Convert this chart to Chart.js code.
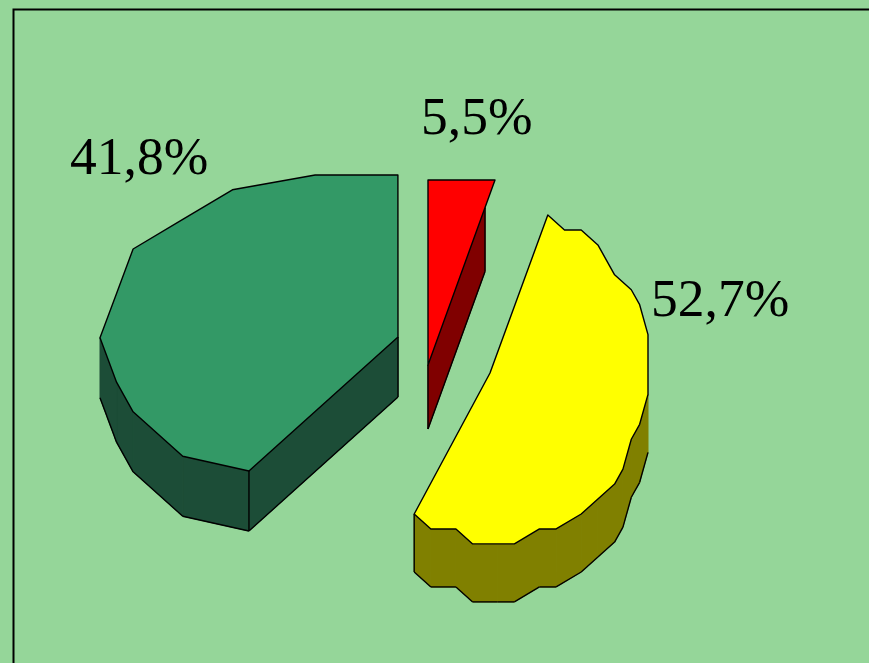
<!DOCTYPE html>
<html>
<head>
<meta charset="utf-8">
<style>html,body{margin:0;padding:0;background:#95d699;overflow:hidden}canvas{display:block}</style>
<script src="https://cdn.jsdelivr.net/npm/chart.js@4"></script>
</head>
<body>
<canvas id="c" width="869" height="663"></canvas>
<script>
const categories = ['Rojo', 'Amarillo', 'Verde'];
const shares = [5.5, 52.7, 41.8];
const shareLabels = ['5,5%', '52,7%', '41,8%'];
const topColors = ['#ff0000', '#ffff00', '#339966'];
const sideColors = ['#800000', '#808000', '#1c4d37'];

// Where each exploded, tilted slice sits, and how coarsely its rim is plotted.
const sliceLayout = [
  {x: 428, y: 365, rx: 198, ry: 190, depth: 64, step: 30, gx: 1, ox: 0, gy: 14.8, oy: 180, upper: 1, sideRight: 485, label: [421, 134]},
  {x: 490, y: 373, rx: 160, ry: 167, depth: 58, step: 8, gx: 8.35, ox: 648, gy: 14.95, oy: 215, upper: 1, label: [651, 316]},
  {x: 398, y: 337, rx: 298, ry: 162, depth: 60, step: 15, gx: 16.55, ox: 100, gy: 14.8, oy: 175, upper: 0.88, label: [70, 174]}
];

function snap(v, g, o) { return Math.round((v - o) / g) * g + o; }

function rim(arc, s) {
  const pts = [[s.x, s.y]];
  const a0 = arc.startAngle, a1 = arc.endAngle;
  const n = Math.max(1, Math.round((a1 - a0) * 180 / Math.PI / s.step));
  for (let i = 0; i <= n; i++) {
    const a = a0 + (a1 - a0) * i / n;
    const c = Math.cos(a), d = Math.sin(a);
    const p = d < 0 ? s.upper : 1;
    const px = snap(s.x + s.rx * Math.sign(c) * Math.pow(Math.abs(c), p), s.gx, s.ox);
    const py = snap(s.y + s.ry * Math.sign(d) * Math.pow(Math.abs(d), p), s.gy, s.oy);
    const prev = pts[pts.length - 1];
    if (prev[0] !== px || prev[1] !== py) pts.push([px, py]);
  }
  return pts;
}

function sideRim(pts, s) {
  if (!s.sideRight) return pts;
  return pts.map(p => {
    if (p[0] <= s.sideRight) return p;
    const t = (s.sideRight - s.x) / (p[0] - s.x);
    return [s.sideRight, s.y + (p[1] - s.y) * t];
  });
}

function path(ctx, pts) {
  ctx.beginPath();
  pts.forEach((p, i) => i ? ctx.lineTo(p[0], p[1]) : ctx.moveTo(p[0], p[1]));
  ctx.closePath();
}

function seg(ctx, a, b) {
  ctx.beginPath();
  ctx.moveTo(a[0], a[1]);
  ctx.lineTo(b[0], b[1]);
  ctx.stroke();
}

const tiltedPie = {
  id: 'tiltedPie',
  beforeDraw(chart) {
    const ctx = chart.ctx;
    ctx.save();
    ctx.fillStyle = '#95d699';
    ctx.fillRect(0, 0, chart.width, chart.height);
    ctx.strokeStyle = '#000';
    ctx.lineWidth = 2;
    ctx.beginPath();
    ctx.moveTo(13.5, chart.height + 2);
    ctx.lineTo(13.5, 9.5);
    ctx.lineTo(chart.width + 2, 9.5);
    ctx.stroke();
    ctx.restore();
  },
  beforeDatasetDraw(chart, args) {
    const ctx = chart.ctx;
    const arcs = args.meta.data;
    ctx.save();
    ctx.lineJoin = 'round';
    arcs.forEach((arc, i) => {
      const s = sliceLayout[i];
      const pts = rim(arc, s);
      const side = sideRim(pts, s);
      const m = side.length;
      const visible = k => side[(k + 1) % m][0] < side[k][0];
      // wall: filled seamlessly, outlined only along its lower edge and corners
      ctx.fillStyle = sideColors[i];
      ctx.strokeStyle = sideColors[i];
      ctx.lineWidth = 1;
      side.forEach((p, k) => {
        if (!visible(k)) return;
        const q = side[(k + 1) % m];
        path(ctx, [p, q, [q[0], q[1] + s.depth], [p[0], p[1] + s.depth]]);
        ctx.fill();
        ctx.stroke();
      });
      ctx.strokeStyle = '#000';
      ctx.lineWidth = 1.4;
      side.forEach((p, k) => {
        if (!visible(k)) return;
        const q = side[(k + 1) % m];
        seg(ctx, [p[0], p[1] + s.depth], [q[0], q[1] + s.depth]);
      });
      side.forEach((p, k) => {
        const isCorner = k === 0 || k === 1 || k === m - 1;
        if (isCorner && (visible(k) || visible((k + m - 1) % m))) {
          seg(ctx, p, [p[0], p[1] + s.depth]);
        }
      });
      ctx.fillStyle = topColors[i];
      path(ctx, pts);
      ctx.fill();
      ctx.stroke();
    });
    ctx.fillStyle = '#000';
    ctx.font = '53.5px "Liberation Serif", serif';
    ctx.textBaseline = 'alphabetic';
    arcs.forEach((arc, i) => {
      ctx.fillText(shareLabels[i], sliceLayout[i].label[0], sliceLayout[i].label[1]);
    });
    ctx.restore();
    return false;
  }
};

new Chart(document.getElementById('c'), {
  type: 'pie',
  data: {
    labels: categories,
    datasets: [{data: shares, backgroundColor: topColors, borderColor: '#000', borderWidth: 1}]
  },
  options: {
    responsive: false,
    animation: false,
    plugins: {legend: {display: false}, tooltip: {enabled: false}}
  },
  plugins: [tiltedPie]
});
</script>
</body>
</html>
